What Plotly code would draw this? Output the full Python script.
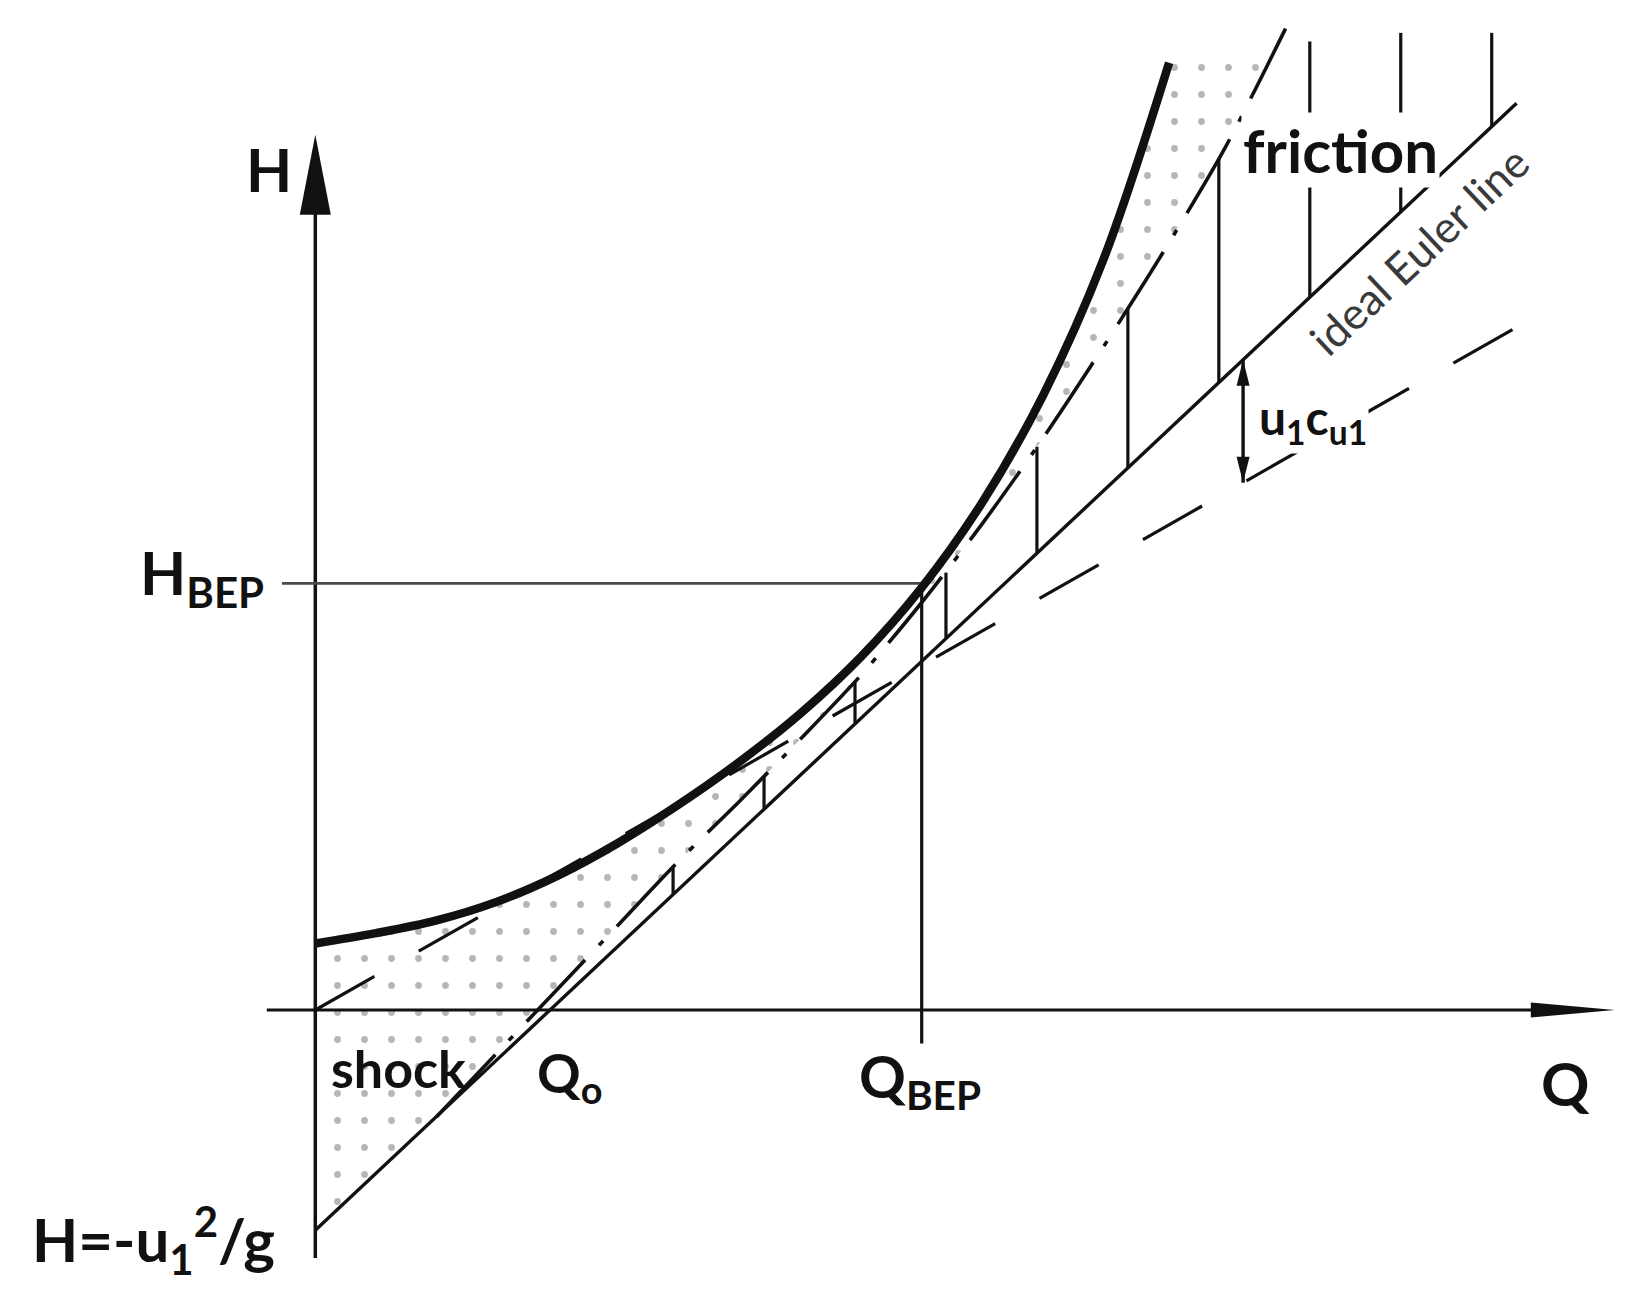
import numpy as np
import plotly.graph_objects as go

# ---------------- data (Q in units of Q_BEP, H in units of H_BEP) ----------------
# pump characteristic (thick curve)
Q_pump = [0.0, 0.1, 0.2, 0.3, 0.4, 0.5, 0.6, 0.7, 0.8, 0.9, 1.0, 1.1, 1.2, 1.3, 1.408]
H_pump = [0.156, 0.18, 0.21, 0.254, 0.315, 0.392, 0.482, 0.582, 0.695, 0.828, 0.99, 1.19, 1.44, 1.76, 2.22]

# head without shock losses (dash-dot curve)
Q_theo = [0.2, 0.3, 0.4, 0.5, 0.6, 0.7, 0.8, 0.9, 1.0, 1.1, 1.2, 1.3, 1.4, 1.5, 1.6]
H_theo = [-0.25, -0.10, 0.05, 0.20, 0.35, 0.49, 0.635, 0.785, 0.955, 1.14, 1.34, 1.555, 1.78, 2.02, 2.30]

# ideal Euler line
Q_euler = [0.0, 1.981]
H_euler = [-0.516, 2.125]

# dashed line through origin
Q_dash = [0.0, 1.981]
H_dash = [0.0, 1.60]

# friction hatching (vertical lines from Euler line upward)
Q_hatch = [0.59, 0.74, 0.89, 1.04, 1.19, 1.34, 1.49, 1.64, 1.79, 1.94]
H_hatch_top = [0.335, 0.548, 0.77, 1.025, 1.32, 1.645, 1.995, 2.27, 2.29, 2.29]

Q_BEP, H_BEP = 1.0, 1.0
Q_dim = 1.53           # position of the u1*cu1 dimension arrow

# axes extents
Q_axis = [-0.08, 2.143]
H_axis = [-0.581, 2.051]

# ---------------- layout geometry ----------------
W, HT = 1637, 1310
PXQ, PXH = 606.4, 426.7      # pixels per unit
X0, Y0 = 315.3, 1010.0       # pixel position of origin
xr = [-X0 / PXQ, (W - X0) / PXQ]
yr = [-(HT - Y0) / PXH, Y0 / PXH]

INK = "#111111"
FONT = "Lato"

fig = go.Figure()

# ---- dotted "shock" region ----
q_top = float(np.interp(H_pump[-1], H_theo, Q_theo))
rq = [q for q in Q_theo if q < q_top][::-1]
rh = [h for q, h in zip(Q_theo, H_theo) if q < q_top][::-1]
poly_q = list(Q_pump) + [q_top] + rq + [Q_euler[0]]
poly_h = list(H_pump) + [H_pump[-1]] + rh + [H_euler[0]]
fig.add_trace(go.Scatter(
    x=poly_q, y=poly_h, fill="toself", mode="none",
    fillcolor="rgba(0,0,0,0)",
    fillpattern=dict(shape=".", size=27, solidity=0.05, fgcolor="#6e6e6e",
                     bgcolor="rgba(255,255,255,0)"),
    hoverinfo="skip", showlegend=False))

# ---- friction hatching ----
hx, hy = [], []
for q, ht in zip(Q_hatch, H_hatch_top):
    hb = float(np.interp(q, Q_euler, H_euler))
    hx += [q, q, None]
    hy += [hb, ht, None]
fig.add_trace(go.Scatter(x=hx, y=hy, mode="lines", line=dict(color=INK, width=3.2),
                         hoverinfo="skip", showlegend=False))

# ---- axes ----
ax_len_y = 80 / PXH
ax_len_x = 84 / PXQ
fig.add_trace(go.Scatter(x=[Q_axis[0], Q_axis[1] - ax_len_x * 0.8], y=[0, 0], mode="lines",
                         line=dict(color=INK, width=3.2), hoverinfo="skip", showlegend=False))
fig.add_trace(go.Scatter(x=[0, 0], y=[H_axis[0], H_axis[1] - ax_len_y * 0.8], mode="lines",
                         line=dict(color=INK, width=3.5), hoverinfo="skip", showlegend=False))

# ---- BEP reference lines ----
fig.add_trace(go.Scatter(x=[-0.055, Q_BEP], y=[H_BEP, H_BEP], mode="lines",
                         line=dict(color="#4a4a4a", width=2.8), hoverinfo="skip", showlegend=False))
fig.add_trace(go.Scatter(x=[Q_BEP, Q_BEP], y=[H_BEP, -0.0785], mode="lines",
                         line=dict(color=INK, width=3.2), hoverinfo="skip", showlegend=False))

# ---- Euler line and dashed line ----
fig.add_trace(go.Scatter(x=Q_euler, y=H_euler, mode="lines",
                         line=dict(color=INK, width=3.4), hoverinfo="skip", showlegend=False))
fig.add_trace(go.Scatter(x=Q_dash, y=H_dash, mode="lines",
                         line=dict(color=INK, width=3.2, dash="68px,51px"),
                         hoverinfo="skip", showlegend=False))

# ---- dash-dot curve ----
fig.add_trace(go.Scatter(x=Q_theo, y=H_theo, mode="lines",
                         line=dict(color=INK, width=3.6, dash="85px,20px,6px,20px",
                                   shape="spline", smoothing=0.8),
                         hoverinfo="skip", showlegend=False))

# ---- pump curve (thick) ----
fig.add_trace(go.Scatter(x=Q_pump, y=H_pump, mode="lines",
                         line=dict(color=INK, width=8.5, shape="spline", smoothing=1.0),
                         hoverinfo="skip", showlegend=False))

# ---- dimension u1 cu1 ----
h_up = float(np.interp(Q_dim, Q_euler, H_euler))
h_dn = float(np.interp(Q_dim, Q_dash, H_dash))
fig.add_trace(go.Scatter(x=[Q_dim, Q_dim], y=[h_up, h_dn], mode="lines",
                         line=dict(color=INK, width=3.4), hoverinfo="skip", showlegend=False))


def tri(tip_q, tip_h, direction, length_px, half_px):
    if direction in ("up", "down"):
        s = 1 if direction == "up" else -1
        L = length_px / PXH
        w = half_px / PXQ
        return (f"M {tip_q},{tip_h} L {tip_q - w},{tip_h - s * L} "
                f"L {tip_q + w},{tip_h - s * L} Z")
    L = length_px / PXQ
    w = half_px / PXH
    return f"M {tip_q},{tip_h} L {tip_q - L},{tip_h + w} L {tip_q - L},{tip_h - w} Z"


shapes = [
    dict(type="path", path=tri(0, H_axis[1], "up", 80, 15.5), fillcolor=INK, line=dict(width=0)),
    dict(type="path", path=tri(Q_axis[1], 0, "right", 84, 7.5), fillcolor=INK, line=dict(width=0)),
    dict(type="path", path=tri(Q_dim, h_up, "up", 26, 6.5), fillcolor=INK, line=dict(width=0)),
    dict(type="path", path=tri(Q_dim, h_dn, "down", 26, 6.5), fillcolor=INK, line=dict(width=0)),
]
for s in shapes:
    s.update(xref="x", yref="y", layer="above")


def ann(text, x, y, size, xanchor="center", yanchor="middle", **kw):
    d = dict(text=text, x=x, y=y, xref="x", yref="y", showarrow=False,
             xanchor=xanchor, yanchor=yanchor,
             font=dict(family=FONT, size=size, color=kw.pop("color", INK)))
    d.update(kw)
    return d


annotations = [
    ann("<b>H</b>", -0.0764, 1.971, 60),
    ann("<b>H<sub>BEP</sub></b>", -0.0813, 1.015, 60, xanchor="right"),
    ann("<b>H=-u<sub>1</sub><sup>2</sup>/g</b>", -0.063, -0.539, 60, xanchor="right"),
    ann("<b>shock</b>", 0.0226, -0.136, 52, xanchor="left"),
    ann("<b>Q<sub>o</sub></b>", 0.362, -0.155, 54, xanchor="left"),
    ann("<b>Q<sub>BEP</sub></b>", 0.8925, -0.164, 58, xanchor="left"),
    ann("<b>Q</b>", 2.061, -0.171, 60),
    ann("<b>friction</b>", 1.690, 2.0155, 60, bgcolor="white"),
    ann("ideal Euler line", 1.820, 1.781, 44, textangle=-43.2, color="#3a3a3a"),
    ann("<b>u<sub>1</sub>c<sub>u1</sub></b>", 1.5525, 1.383, 48, xanchor="left", bgcolor="white"),
]

fig.update_layout(
    width=W, height=HT,
    margin=dict(l=0, r=0, t=0, b=0),
    paper_bgcolor="white", plot_bgcolor="white",
    xaxis=dict(range=xr, visible=False, fixedrange=True),
    yaxis=dict(range=yr, visible=False, fixedrange=True),
    shapes=shapes, annotations=annotations,
    showlegend=False,
)

fig.write_html("out.html",
               config=dict(displayModeBar=False),
               post_script="document.body.style.margin='0';document.body.style.overflow='hidden';")
